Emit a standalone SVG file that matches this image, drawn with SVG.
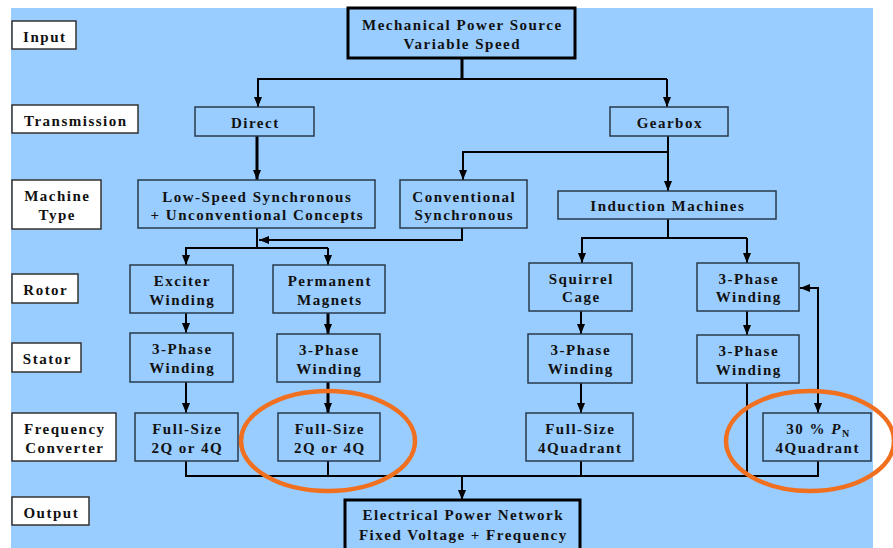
<svg xmlns="http://www.w3.org/2000/svg" width="893" height="548" viewBox="0 0 893 548">
<defs>
<style>
.bg{fill:#99CCFF}
.n{fill:#99CCFF;stroke:#2a3a4c;stroke-width:1.5}
.lab{fill:#ffffff;stroke:#333333;stroke-width:1.5}
.big{fill:#99CCFF;stroke:#000;stroke-width:3}
text{font-family:"Liberation Serif","Times New Roman",serif;font-weight:bold;font-size:15px;letter-spacing:1.5px;fill:#111111;text-anchor:middle}
.c{fill:none;stroke:#000;stroke-width:2}
.ct{fill:none;stroke:#000;stroke-width:3}
.a{marker-end:url(#ah)}
.ring{fill:none;stroke:#F07020;stroke-width:4.5}
</style>
<marker id="ah" markerUnits="userSpaceOnUse" markerWidth="11" markerHeight="9" refX="10" refY="4" orient="auto-start-reverse">
<path d="M0,0 L10,4 L0,8 Z" fill="#000"/>
</marker>
</defs>
<rect width="893" height="548" fill="#ffffff"/>
<rect class="bg" x="11" y="8" width="862" height="540"/>

<g id="labels">
<g id="lab-input"><rect class="lab" x="12" y="21" width="64" height="28"/><text x="44.8" y="42">Input</text></g>
<g id="lab-transmission"><rect class="lab" x="12" y="105" width="126" height="28"/><text x="75.8" y="126">Transmission</text></g>
<g id="lab-machine"><rect class="lab" x="12" y="180" width="89" height="49"/><text x="57.3" y="201">Machine</text><text x="57.3" y="219.5">Type</text></g>
<g id="lab-rotor"><rect class="lab" x="12" y="274" width="66" height="29"/><text x="45.8" y="295">Rotor</text></g>
<g id="lab-stator"><rect class="lab" x="12" y="343" width="69" height="29"/><text x="47.3" y="364">Stator</text></g>
<g id="lab-freq"><rect class="lab" x="12" y="413" width="104" height="48"/><text x="64.8" y="434">Frequency</text><text x="64.8" y="452.5">Converter</text></g>
<g id="lab-output"><rect class="lab" x="12" y="497" width="77" height="28"/><text x="51.3" y="518">Output</text></g>
</g>

<g id="connectors">
<path class="ct" d="M462,58 V79"/>
<path class="c a" d="M258,79 H667 M258,78 V107"/>
<path class="c a" d="M667,79 V107"/>
<path class="ct a" d="M257,136 V180"/>
<path class="c a" d="M668,136 V191"/>
<path class="c a" d="M668,152 H463 V180"/>
<path class="c a" d="M462,228 V240 H259"/>
<path class="c" d="M257,228 V248"/>
<path class="c a" d="M186,248 H328 M186,247 V265"/>
<path class="c a" d="M328,248 V265"/>
<path class="c" d="M668,219 V238"/>
<path class="c a" d="M582,238 H747 M582,237 V263"/>
<path class="c a" d="M747,238 V263"/>
<path class="c a" d="M186,313 V333"/>
<path class="ct a" d="M328,313 V334"/>
<path class="c a" d="M581,311 V334"/>
<path class="c a" d="M747,311 V335"/>
<path class="c a" d="M186,382 V413"/>
<path class="ct a" d="M328,382 V413"/>
<path class="c a" d="M581,383 V413"/>
<path class="c" d="M747,383 V476"/>
<path class="c" d="M186,461 V476 H818 V461 M328,461 V476 M581,461 V476"/>
<path class="c a" d="M462,476 V500"/>
<path class="c" d="M800,288 H818 V413" marker-start="url(#ah)" marker-end="url(#ah)"/>
</g>

<g id="n-mech"><rect class="big" x="348" y="8" width="227" height="50"/><text x="462.3" y="29.5">Mechanical Power Source</text><text x="462.3" y="48.5">Variable Speed</text></g>
<g id="n-direct"><rect class="n" x="195" y="107" width="119" height="29"/><text x="255.3" y="128">Direct</text></g>
<g id="n-gearbox"><rect class="n" x="610" y="107" width="118" height="29"/><text x="669.8" y="128">Gearbox</text></g>
<g id="n-lowspeed"><rect class="n" x="138" y="180" width="237" height="48"/><text x="257.3" y="201.5">Low-Speed Synchronous</text><text x="257.3" y="220">+ Unconventional Concepts</text></g>
<g id="n-conv"><rect class="n" x="400" y="180" width="127" height="48"/><text x="464.3" y="201.5">Conventional</text><text x="464.3" y="220">Synchronous</text></g>
<g id="n-induction"><rect class="n" x="558" y="191" width="218" height="28"/><text x="667.8" y="211">Induction Machines</text></g>
<g id="n-exciter"><rect class="n" x="130" y="265" width="103" height="48"/><text x="182.3" y="286">Exciter</text><text x="182.3" y="304.5">Winding</text></g>
<g id="n-pm"><rect class="n" x="273" y="265" width="112" height="48"/><text x="329.8" y="286">Permanent</text><text x="329.8" y="304.5">Magnets</text></g>
<g id="n-squirrel"><rect class="n" x="529" y="263" width="103" height="48"/><text x="581.3" y="283.5">Squirrel</text><text x="581.3" y="302">Cage</text></g>
<g id="n-rotor3p"><rect class="n" x="697" y="263" width="102" height="48"/><text x="748.8" y="283.5">3-Phase</text><text x="748.8" y="302">Winding</text></g>
<g id="n-st1"><rect class="n" x="130" y="333" width="103" height="49"/><text x="182.3" y="354">3-Phase</text><text x="182.3" y="373">Winding</text></g>
<g id="n-st2"><rect class="n" x="277" y="334" width="103" height="48"/><text x="329.3" y="355">3-Phase</text><text x="329.3" y="374">Winding</text></g>
<g id="n-st3"><rect class="n" x="528" y="334" width="104" height="49"/><text x="580.8" y="355">3-Phase</text><text x="580.8" y="374">Winding</text></g>
<g id="n-st4"><rect class="n" x="697" y="335" width="102" height="48"/><text x="748.8" y="356">3-Phase</text><text x="748.8" y="375">Winding</text></g>
<g id="n-fc1"><rect class="n" x="135" y="413" width="103" height="48"/><text x="187.3" y="434">Full-Size</text><text x="187.3" y="453">2Q or 4Q</text></g>
<g id="n-fc2"><rect class="n" x="278" y="413" width="102" height="48"/><text x="329.8" y="434">Full-Size</text><text x="329.8" y="453">2Q or 4Q</text></g>
<g id="n-fc3"><rect class="n" x="526" y="413" width="107" height="48"/><text x="580.3" y="434">Full-Size</text><text x="580.3" y="453">4Quadrant</text></g>
<g id="n-fc4"><rect class="n" x="763" y="413" width="108" height="48"/><text x="817.8" y="434">30 % <tspan font-style="italic">P</tspan><tspan font-size="10" dy="3" letter-spacing="0">N</tspan></text><text x="817.8" y="452.5">4Quadrant</text></g>
<g id="n-elec"><rect class="big" x="345" y="500" width="235" height="60"/><text x="463.3" y="520">Electrical Power Network</text><text x="463.3" y="540">Fixed Voltage + Frequency</text></g>

<g id="highlights">
<ellipse class="ring" cx="328" cy="441" rx="87" ry="50"/>
<ellipse class="ring" cx="810" cy="441" rx="84" ry="50"/>
</g>
</svg>
